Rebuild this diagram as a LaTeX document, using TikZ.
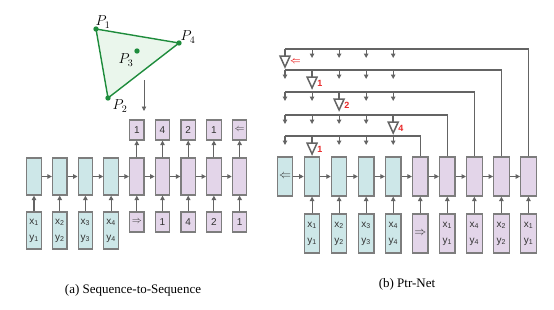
\documentclass[tikz,border=0pt]{standalone}
\usepackage{fontspec}
\setmainfont{Liberation Serif}
\setsansfont{Liberation Sans}
\usetikzlibrary{arrows.meta, positioning}

\definecolor{encfill}{RGB}{205,231,232}
\definecolor{decfill}{RGB}{227,213,233}
\definecolor{boxline}{RGB}{125,125,125}
\definecolor{wire}{RGB}{100,100,100}
\definecolor{hullgreen}{RGB}{30,140,60}
\definecolor{hullfill}{RGB}{234,246,236}
\definecolor{ptrred}{RGB}{232,40,40}

\tikzset{
  cell/.style={rectangle, draw=boxline, line width=1.2pt, minimum width=14.5pt,
    inner sep=0pt, align=center, text=black!80,
    font=\sffamily\fontsize{10}{16}\selectfont},
  enccell/.style={cell, fill=encfill, minimum height=37pt},
  deccell/.style={cell, fill=decfill, minimum height=37pt},
  decshort/.style={cell, fill=decfill, minimum height=20pt,
    font=\sffamily\fontsize{10}{11}\selectfont},
  wirearrow/.style={draw=wire, line width=1.1pt, -{Triangle[length=4.5pt,width=4.5pt]}},
  wireline/.style={draw=wire, line width=1.1pt},
  stem/.style={draw=wire, line width=2.2pt},
  pointer/.style={draw=wire, line width=1.5pt, fill=white, line join=miter},
  ptrlabel/.style={anchor=west, inner sep=0pt, text=ptrred,
    font=\sffamily\bfseries\boldmath\fontsize{9}{10}\selectfont},
  plabel/.style={inner sep=0pt, font=\fontsize{14.4}{16}\selectfont},
  caption/.style={inner sep=0pt, font=\fontsize{13}{15}\selectfont}
}

\begin{document}
\begin{tikzpicture}[x=1pt, y=-1pt]
    \useasboundingbox (0,0) rectangle (554,309);

    % Sequence-to-Sequence
    \begin{scope}
        \foreach \i in {1,...,4} {
            \node[enccell] (ah\i) at ({34+(\i-1)*25.7},176.5) {};
            \node[enccell] (ax\i) at ({34+(\i-1)*25.7},230.5) {x\textsubscript{\i}\\y\textsubscript{\i}};
        }
        \foreach \i/\inp/\outp in {5/$\Rightarrow$/1, 6/1/4, 7/4/2, 8/2/1, 9/1/$\Leftarrow$} {
            \node[deccell] (ah\i) at ({34+(\i-1)*25.7},176.5) {};
            \node[decshort] (ax\i) at ({34+(\i-1)*25.7},222) {\inp};
            \node[decshort] (ay\i) at ({34+(\i-1)*25.7},130) {\outp};
            \draw[wirearrow] (ah\i) -- (ay\i);
        }
        \foreach \i in {1,...,9}
            \draw[wirearrow] (ax\i) -- (ah\i);
        \foreach \i [evaluate=\i as \j using int(\i+1)] in {1,...,8}
            \draw[wirearrow] (ah\i) -- (ah\j);

        % convex hull
        \coordinate (P1) at (96,29);
        \coordinate (P4) at (179,43);
        \coordinate (P2) at (108,98);
        \coordinate (P3) at (137,51);
        \draw[hullgreen, line width=1.4pt, fill=hullfill] (P1) -- (P4) -- (P2) -- cycle;
        \foreach \p in {P1,P2,P3,P4}
            \fill[hullgreen] (\p) circle (2.7pt);
        \node[plabel] (lP1) at (103,22) {$P_1$};
        \node[plabel] (lP4) at (188,37) {$P_4$};
        \node[plabel] (lP3) at (126,60) {$P_3$};
        \node[plabel] (lP2) at (120,106) {$P_2$};
        \coordinate (hs) at (144,80);
        \coordinate (he) at (144,111);
        \draw[wirearrow, line width=0.8pt] (hs) -- (he);

        \node[caption] (capa) at (133,290) {(a) Sequence-to-Sequence};
    \end{scope}

    % Ptr-Net
    \begin{scope}[cell/.append style={minimum width=15.5pt},
                  enccell/.append style={minimum height=39pt},
                  deccell/.append style={minimum height=39pt}]
        \node[enccell, font=\fontsize{12}{13}\selectfont] (bh0) at (285,176.5) {$\Leftarrow$};
        \foreach \i in {1,...,4} {
            \node[enccell] (bh\i) at ({285+\i*27.05},176.5) {};
            \node[enccell] (bx\i) at ({285+\i*27.05},233.5) {x\textsubscript{\i}\\y\textsubscript{\i}};
        }
        \foreach \i in {5,...,9}
            \node[deccell] (bh\i) at ({285+\i*27.05},176.5) {};
        \node[deccell, font=\fontsize{12}{13}\selectfont] (bx5) at ({285+5*27.05},233.5) {$\Rightarrow$};
        \foreach \i/\n in {6/1, 7/4, 8/2, 9/1}
            \node[deccell] (bx\i) at ({285+\i*27.05},233.5) {x\textsubscript{\n}\\y\textsubscript{\n}};
        \foreach \i in {1,...,9}
            \draw[wirearrow] (bx\i) -- (bh\i);
        \foreach \i [evaluate=\i as \j using int(\i+1)] in {0,...,8}
            \draw[wirearrow] (bh\i) -- (bh\j);

        % attention rows
        \foreach \k/\ly/\d/\s/\lab in {1/49/9/0/$\Leftarrow$, 2/70/8/1/1, 3/92/7/2/2, 4/115/6/4/4, 5/136/5/1/1} {
            \coordinate (r\k) at (285,\ly);
            \draw[wireline] (bh\d.north) |- (r\k);
            \foreach \i in {0,...,4} {
                \coordinate (r\k a\i) at ({285+\i*27.05},\ly);
                \coordinate (r\k e\i) at ({285+\i*27.05},\ly+9);
                \ifnum\i=\s\relax\else
                    \draw[wirearrow] (r\k a\i) -- (r\k e\i);
                \fi
            }
            \coordinate (t\k) at ({285+\s*27.05},\ly+7);
            \draw[stem] (r\k a\s) -- (t\k);
            \draw[pointer] ([xshift=-5pt]t\k) -- ([xshift=5pt]t\k) -- ([yshift=-11pt]t\k) -- cycle;
            \node[ptrlabel] (p\k) at ({285+\s*27.05+5},\ly+13) {\lab};
        }

        \node[caption] (capb) at (407,284) {(b) Ptr-Net};
    \end{scope}
\end{tikzpicture}
\end{document}
